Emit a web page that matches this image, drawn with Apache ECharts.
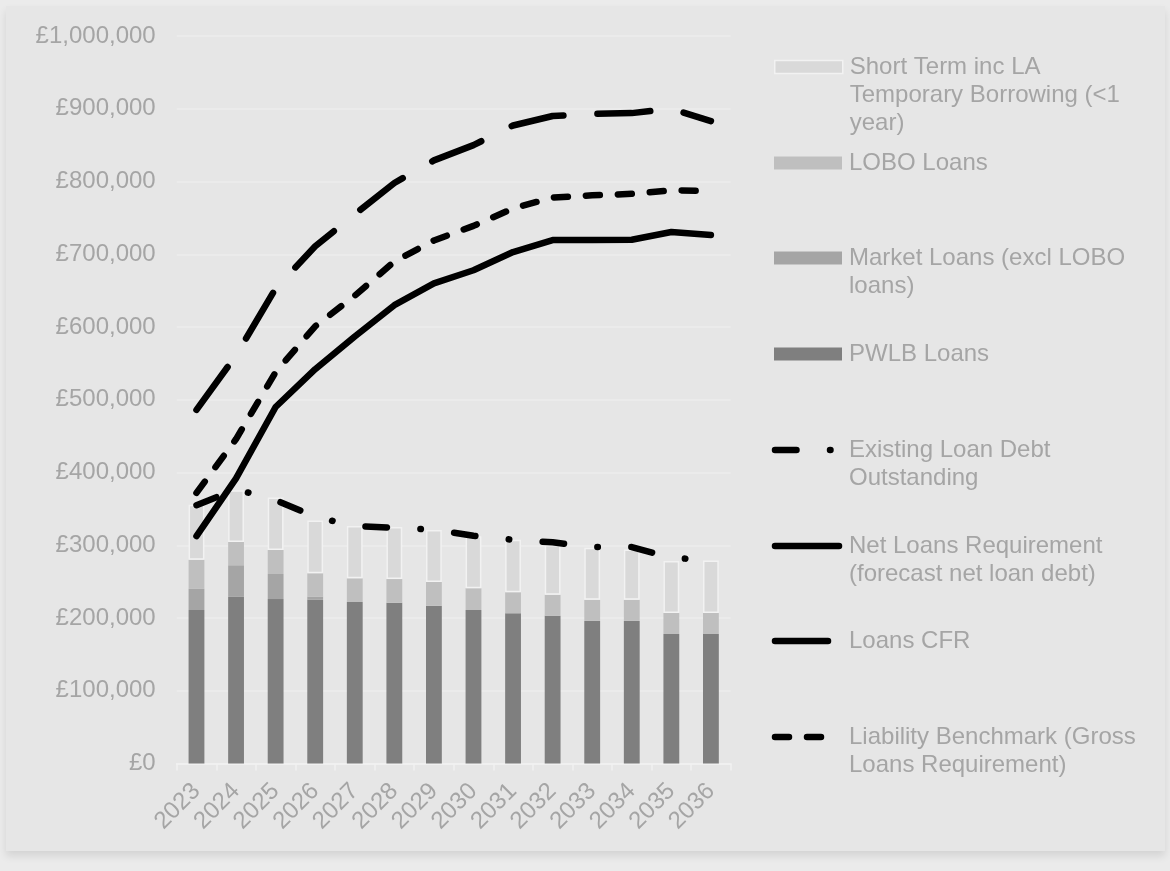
<!DOCTYPE html>
<html lang="en">
<head>
<meta charset="UTF-8">
<title>Loans forecast</title>
<script src="https://cdn.jsdelivr.net/npm/echarts@6.0.0/dist/echarts.min.js"></script>
<style>
    html, body { margin: 0; padding: 0; background: #ebebeb; }
    #card { position: absolute; left: 6px; top: 6px; width: 1159px; height: 845px;
            background: #e6e6e6; box-shadow: 0 5px 8px rgba(0, 0, 0, 0.10); }
    #chart { position: absolute; left: 0; top: 0; width: 1170px; height: 871px; }
</style>
</head>
<body>
<div id="card"></div>
<div id="chart"></div>
<script>
    // categories
    var years = ['2023', '2024', '2025', '2026', '2027', '2028', '2029',
                 '2030', '2031', '2032', '2033', '2034', '2035', '2036'];

    // stacked bars (£)
    var pwlbLoans   = [211000, 229000, 226000, 225000, 222000, 221000, 217000, 211000, 206500, 203000, 196000, 196000, 178000, 178000];
    var marketLoans = [29000, 43500, 34500, 4500, 0, 0, 0, 0, 0, 0, 0, 0, 0, 0];
    var loboLoans   = [40000, 32000, 33000, 32000, 32500, 32500, 32500, 30000, 29000, 29000, 29000, 29000, 29000, 29000];
    var shortTerm   = [75500, 71000, 72000, 72500, 72000, 71500, 71500, 71500, 72000, 68500, 71500, 69000, 71500, 72000];

    // lines (£)
    var existingDebt  = [355000, 377000, 362000, 339000, 326500, 324000, 321500, 313000, 307500, 304000, 297500, 297500, 282500, 280000];
    var netLoansReq   = [312500, 392000, 490000, 542000, 587000, 630000, 660000, 678000, 703000, 719500, 719500, 720000, 730500, 726500];
    var loansCFR      = [486000, 561000, 653000, 711000, 755000, 798000, 829000, 850000, 877000, 890000, 893000, 894000, 900000, 883000];
    var liabilityBench = [372000, 446000, 538000, 601000, 643000, 690000, 719000, 739000, 763000, 778000, 781000, 783000, 788000, 787000];

    // legend text as wrapped in the original
    var legendLabels = {
        'Short Term inc LA Temporary Borrowing (<1 year)': 'Short Term inc LA\nTemporary Borrowing (<1\nyear)',
        'LOBO Loans': 'LOBO Loans',
        'Market Loans (excl LOBO loans)': 'Market Loans (excl LOBO\nloans)',
        'PWLB Loans': 'PWLB Loans',
        'Existing Loan Debt Outstanding': 'Existing Loan Debt\nOutstanding',
        'Net Loans Requirement (forecast net loan debt)': 'Net Loans Requirement\n(forecast net loan debt)',
        'Loans CFR': 'Loans CFR',
        'Liability Benchmark (Gross Loans Requirement)': 'Liability Benchmark (Gross\nLoans Requirement)'
    };
    var legendOrder = Object.keys(legendLabels);
    var legendIconY = [67, 163, 258, 354, 450, 546, 641, 737];
    var barNames = ['Short Term inc LA Temporary Borrowing (<1 year)', 'LOBO Loans',
                    'Market Loans (excl LOBO loans)', 'PWLB Loans'];

    var textGrey = '#a5a5a5';
    var font = '"Liberation Sans", Arial, sans-serif';
    var LH = 28.4;
    var LW = 6.5;

    // one legend per entry so the icon sits level with the first text line
    var legends = legendOrder.map(function (name, i) {
        var text = legendLabels[name];
        var n = text.split('\n').length;
        var isBar = barNames.indexOf(name) >= 0;
        var pad = '';
        for (var k = 1; k < n; k++) pad += '\n';
        return {
            left: isBar ? 774 : 771.75,
            top: legendIconY[i] - (2 * n - 1) * LH / 2,
            orient: 'vertical',
            padding: 0,
            itemWidth: isBar ? 68 : 64,
            itemHeight: 13,
            selectedMode: false,
            data: [isBar ? { name: name, icon: 'rect' } : name],
            formatter: function () { return pad + text; },
            itemStyle: isBar ? { borderWidth: i === 0 ? 1.5 : 0 } : { opacity: 0 },
            lineStyle: { width: LW },
            textStyle: {
                color: textGrey, fontSize: 24, fontFamily: font,
                lineHeight: LH, padding: [0, 0, 0, isBar ? 2 : 5]
            }
        };
    });

    function pounds(v) {
        return '£' + String(v).replace(/\B(?=(\d{3})+(?!\d))/g, ',');
    }

    var chart = echarts.init(document.getElementById('chart'), null, { renderer: 'canvas' });

    var option = {
        animation: false,
        backgroundColor: 'transparent',
        legend: legends,
        grid: { left: 176.7, right: 439.3, top: 36, bottom: 107.5, outerBoundsMode: 'none' },
        xAxis: {
            type: 'category',
            data: years,
            axisLine: { lineStyle: { color: '#f1f1f1', width: 1.5 } },
            axisTick: { show: true, length: 7, lineStyle: { color: '#f1f1f1', width: 1.5 } },
            axisLabel: { rotate: 45, interval: 0, margin: 24, color: textGrey, fontSize: 24, fontFamily: font }
        },
        yAxis: {
            type: 'value',
            min: 0,
            max: 1000000,
            interval: 100000,
            axisLine: { show: false },
            axisTick: { show: false },
            splitLine: { lineStyle: { color: '#ececec', width: 1.5 } },
            axisLabel: { margin: 21, color: textGrey, fontSize: 24, fontFamily: font, formatter: pounds }
        },
        series: [
            { name: 'PWLB Loans', type: 'bar', stack: 'loans', barWidth: '40%', data: pwlbLoans,
              itemStyle: { color: '#7f7f7f' } },
            { name: 'Market Loans (excl LOBO loans)', type: 'bar', stack: 'loans', data: marketLoans,
              itemStyle: { color: '#a5a5a5' } },
            { name: 'LOBO Loans', type: 'bar', stack: 'loans', data: loboLoans,
              itemStyle: { color: '#bfbfbf' } },
            { name: 'Short Term inc LA Temporary Borrowing (<1 year)', type: 'bar', stack: 'loans', data: shortTerm,
              itemStyle: { color: '#d9d9d9', borderColor: '#f2f2f2', borderWidth: 1.5 } },
            { name: 'Existing Loan Debt Outstanding', type: 'line', data: existingDebt, symbol: 'none',
              lineStyle: { color: '#000', width: LW, type: [21.5, 33.5, 0.5, 33.5], cap: 'round', join: 'round' } },
            { name: 'Net Loans Requirement (forecast net loan debt)', type: 'line', data: netLoansReq, symbol: 'none',
              lineStyle: { color: '#000', width: LW, type: 'solid', cap: 'round', join: 'round' } },
            { name: 'Loans CFR', type: 'line', data: loansCFR, symbol: 'none',
              lineStyle: { color: '#000', width: LW, type: [53, 34], cap: 'round', join: 'round' } },
            { name: 'Liability Benchmark (Gross Loans Requirement)', type: 'line', data: liabilityBench, symbol: 'none',
              lineStyle: { color: '#000', width: LW, type: [14, 18], cap: 'round', join: 'round' } }
        ]
    };

    chart.setOption(option);
</script>
</body>
</html>
